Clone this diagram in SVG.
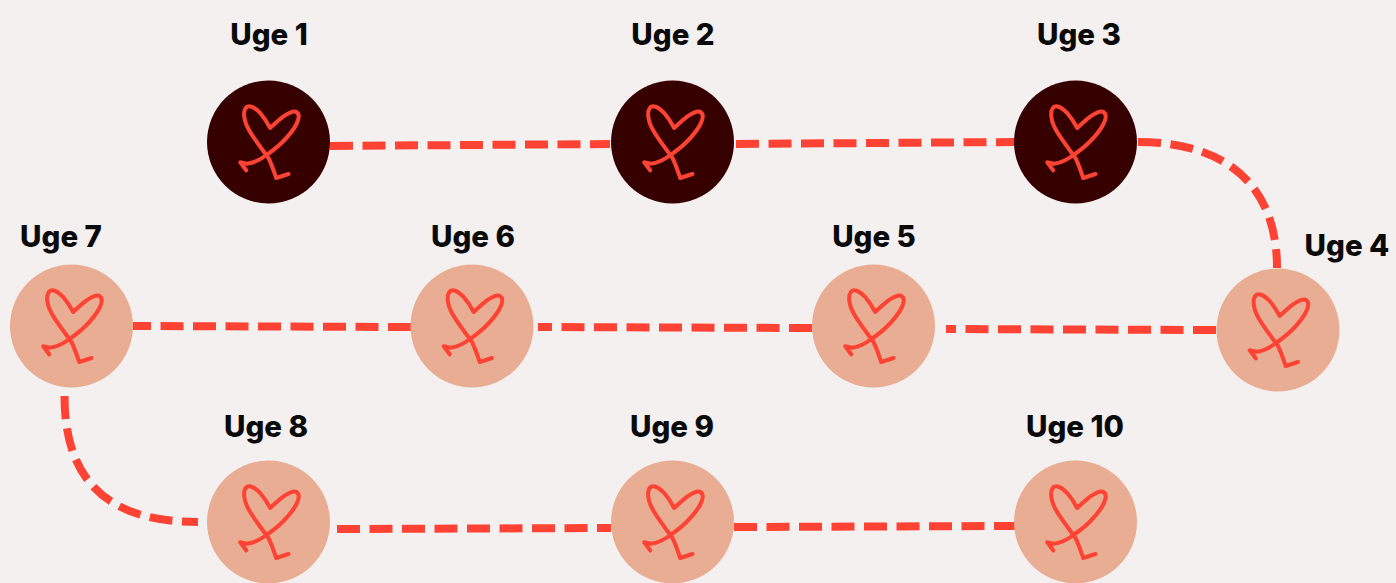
<svg xmlns="http://www.w3.org/2000/svg" width="1396" height="583" viewBox="0 0 1396 583">
<style>
.lbl{font-family:"Inter","Liberation Sans",sans-serif;font-weight:800;font-size:29.5px;fill:#0a0a0a;text-anchor:middle}
.dark{fill:#360000}
.light{fill:#e8ad92}
.heart{fill:none;stroke:#fe4233;stroke-width:4;stroke-linecap:round;stroke-linejoin:round}
.conn{fill:none;stroke:#fe4233;stroke-width:8;stroke-dasharray:23 9.500}
</style>
<defs>
<path id="h" class="heart" d="M20 32 L7.700 36 C5 28 3 22 0 16 C-5 9 -9 4 -13.300 -2.300 C-18 -9 -22 -15 -23.300 -20.700 C-25 -27 -25 -33 -21 -35.500 C-17 -37 -13 -33.500 -8.300 -29 C-4 -24 -1 -19 1.700 -14 C6 -18 10 -22 15 -25.700 C20 -29 25 -32 28 -30 C31 -28 30.500 -23 28 -18 C25 -12 20 -6 14 0 C10 4 3 9.500 -2 13 C-8 17.500 -14 21 -21.700 21.700 L-28.300 20.300 L-22.300 28.300"/>
</defs>
<rect width="1396" height="583" fill="#f4f0f0"/>
<g id="connectors">
<path class="conn" d="M330 146L610 144"/>
<path class="conn" d="M736 144L1015 142"/>
<path class="conn" d="M1138 142C1220 142 1277 180 1277 268"/>
<path class="conn" d="M1216 330L946 329"/>
<path class="conn" d="M812 328L538 327"/>
<path class="conn" d="M411 327L133 326"/>
<path class="conn" d="M64.500 396C64.500 490 118 522 198 522"/>
<path class="conn" d="M337 529L611 528"/>
<path class="conn" d="M734 527L1015 526"/>
</g>
<g id="uge1"><circle class="dark" cx="268.500" cy="142" r="61.500"/><use href="#h" x="268.500" y="142"/><text class="lbl" x="269" y="45">Uge 1</text></g>
<g id="uge2"><circle class="dark" cx="672.500" cy="142" r="61.500"/><use href="#h" x="672.500" y="142"/><text class="lbl" x="673" y="45">Uge 2</text></g>
<g id="uge3"><circle class="dark" cx="1075.500" cy="142" r="61.500"/><use href="#h" x="1075.500" y="142"/><text class="lbl" x="1079" y="45">Uge 3</text></g>
<g id="uge4"><circle class="light" cx="1278" cy="330" r="61.500"/><use href="#h" x="1278" y="330"/><text class="lbl" x="1347" y="256">Uge 4</text></g>
<g id="uge5"><circle class="light" cx="873.500" cy="326" r="61.500"/><use href="#h" x="873.500" y="326"/><text class="lbl" x="874" y="247">Uge 5</text></g>
<g id="uge6"><circle class="light" cx="472" cy="326" r="61.500"/><use href="#h" x="472" y="326"/><text class="lbl" x="473" y="247">Uge 6</text></g>
<g id="uge7"><circle class="light" cx="71.500" cy="326" r="61.500"/><use href="#h" x="71.500" y="326"/><text class="lbl" x="61" y="247">Uge 7</text></g>
<g id="uge8"><circle class="light" cx="268.500" cy="522" r="61.500"/><use href="#h" x="268.500" y="522"/><text class="lbl" x="266" y="437">Uge 8</text></g>
<g id="uge9"><circle class="light" cx="672.500" cy="522" r="61.500"/><use href="#h" x="672.500" y="522"/><text class="lbl" x="672" y="437">Uge 9</text></g>
<g id="uge10"><circle class="light" cx="1075.500" cy="522" r="61.500"/><use href="#h" x="1075.500" y="522"/><text class="lbl" x="1075" y="437">Uge 10</text></g>
</svg>
